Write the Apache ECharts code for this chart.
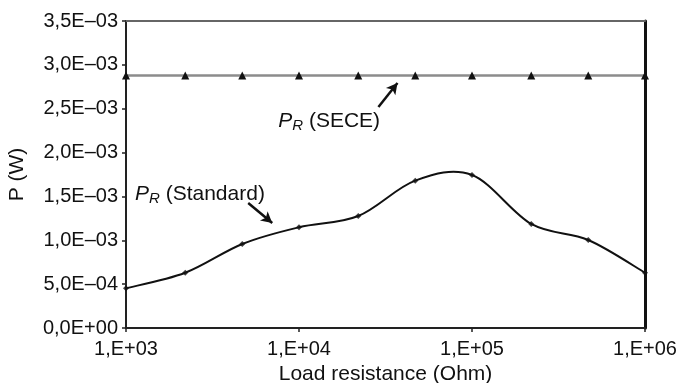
<!DOCTYPE html>
<html>
<head>
<meta charset="utf-8">
<script src="https://cdn.jsdelivr.net/npm/echarts@6/dist/echarts.min.js"></script>
<style>
  html, body { margin: 0; padding: 0; background: #fff; }
  #chart { width: 677px; height: 383px; }
</style>
</head>
<body>
<div id="chart"></div>
<script>
// Load resistances (Ohm), E6 series over three decades
const resistances = [1000, 2200, 4700, 10000, 22000, 47000, 100000, 220000, 470000, 1000000];
// Harvested power with the SECE technique (W)
const powerSECE = [2.88e-3, 2.88e-3, 2.88e-3, 2.88e-3, 2.88e-3, 2.88e-3, 2.88e-3, 2.88e-3, 2.88e-3, 2.88e-3];
// Harvested power with the standard interface (W)
const powerStandard = [0.453e-3, 0.63e-3, 0.958e-3, 1.148e-3, 1.277e-3, 1.68e-3, 1.744e-3, 1.186e-3, 1.003e-3, 0.63e-3];
// Axis tick labels
const xTickLabels = { 1000: '1,E+03', 10000: '1,E+04', 100000: '1,E+05', 1000000: '1,E+06' };
const yTickLabels = ['0,0E+00', '5,0E\u201304', '1,0E\u201303', '1,5E\u201303', '2,0E\u201303', '2,5E\u201303', '3,0E\u201303', '3,5E\u201303'];

const FONT = '"Liberation Sans", Arial, sans-serif';
const chart = echarts.init(document.getElementById('chart'));

function yLabel(v) {
  const i = Math.round(v / 0.5e-3);
  return yTickLabels[i] !== undefined ? yTickLabels[i] : '';
}

const standardData = resistances.map((r, i) => [r, powerStandard[i]]);

// Smooth curve through the measured points (Catmull-Rom segments as cubic Beziers)
function renderSmoothCurve(params, api) {
  if (params.dataIndex !== 0) return null;
  const pts = standardData.map(d => api.coord(d));
  const n = pts.length;
  let d = 'M' + pts[0][0] + ' ' + pts[0][1];
  for (let i = 0; i < n - 1; i++) {
    const p0 = pts[Math.max(i - 1, 0)], p1 = pts[i], p2 = pts[i + 1], p3 = pts[Math.min(i + 2, n - 1)];
    const c1 = [p1[0] + (p2[0] - p0[0]) / 6, p1[1] + (p2[1] - p0[1]) / 6];
    const c2 = [p2[0] - (p3[0] - p1[0]) / 6, p2[1] - (p3[1] - p1[1]) / 6];
    d += ' C' + c1[0] + ' ' + c1[1] + ' ' + c2[0] + ' ' + c2[1] + ' ' + p2[0] + ' ' + p2[1];
  }
  return {
    type: 'path', silent: true,
    shape: { pathData: d },
    style: { fill: null, stroke: '#111', lineWidth: 2 }
  };
}

const arrowStyle = { color: '#111', width: 2.5, type: 'solid' };

chart.setOption({
  animation: false,
  grid: { left: 126, right: 32, top: 21, bottom: 55, outerBoundsMode: 'none', containLabel: false },
  xAxis: [{
    type: 'log', logBase: 10, min: 1000, max: 1000000,
    name: 'Load resistance (Ohm)', nameLocation: 'middle', nameGap: 36,
    nameTextStyle: { fontFamily: FONT, fontSize: 21, color: '#111' },
    axisLine: { lineStyle: { color: '#222', width: 2 } },
    axisTick: { show: true, inside: false, length: 4, lineStyle: { color: '#222', width: 1.5 } },
    minorTick: { show: false },
    splitLine: { show: false },
    axisLabel: { fontFamily: FONT, fontSize: 20, color: '#111', margin: 11,
      formatter: v => xTickLabels[Math.round(v)] || '' }
  }, {
    type: 'log', logBase: 10, min: 1000, max: 1000000, position: 'top',
    axisLine: { show: true, onZero: false, lineStyle: { color: '#666', width: 2 } },
    axisTick: { show: false }, axisLabel: { show: false }, splitLine: { show: false }
  }],
  yAxis: [{
    type: 'value', min: 0, max: 3.5e-3, interval: 0.5e-3,
    name: 'P (W)', nameLocation: 'middle', nameGap: 98,
    nameTextStyle: { fontFamily: FONT, fontSize: 21, color: '#111' },
    axisLine: { show: true, lineStyle: { color: '#222', width: 2 } },
    axisTick: { show: true, inside: false, length: 4, lineStyle: { color: '#222', width: 1.5 } },
    splitLine: { show: false },
    axisLabel: { fontFamily: FONT, fontSize: 20, color: '#111', margin: 8, formatter: yLabel }
  }, {
    type: 'value', min: 0, max: 3.5e-3, interval: 0.5e-3, position: 'right',
    axisLine: { show: true, onZero: false, lineStyle: { color: '#111', width: 3 } },
    axisTick: { show: false }, axisLabel: { show: false }, splitLine: { show: false }
  }],
  series: [{
    name: 'SECE', type: 'line',
    data: resistances.map((r, i) => [r, powerSECE[i]]),
    lineStyle: { color: '#8c8c8c', width: 2.5 },
    symbol: 'triangle', symbolSize: 8,
    itemStyle: { color: '#111' },
    markLine: {
      silent: true, symbol: ['none', 'arrow'], symbolSize: [9, 11],
      label: { show: false }, lineStyle: arrowStyle,
      data: [[{ coord: [28780, 2.52e-3] }, { coord: [37090, 2.793e-3] }]]
    }
  }, {
    name: 'Standard curve', type: 'custom',
    data: standardData,
    renderItem: renderSmoothCurve,
    z: 2
  }, {
    name: 'Standard', type: 'scatter',
    data: standardData,
    symbol: 'diamond', symbolSize: 6,
    itemStyle: { color: '#111' },
    z: 3,
    markLine: {
      silent: true, symbol: ['none', 'arrow'], symbolSize: [9, 11],
      label: { show: false }, lineStyle: arrowStyle,
      data: [[{ coord: [5087, 1.425e-3] }, { coord: [7003, 1.197e-3] }]]
    }
  }]
});

// Curve annotations, anchored in data coordinates
const annotations = [
  { at: [7586, 2.349e-3], name: 'SECE' },
  { at: [1127, 1.516e-3], name: 'Standard' }
];
chart.setOption({
  graphic: annotations.map(a => {
    const p = chart.convertToPixel({ xAxisIndex: 0, yAxisIndex: 0 }, a.at);
    return {
      type: 'text', left: p[0], top: p[1] - 13, silent: true,
      style: {
        text: '{p|P}{r|R}{t| (' + a.name + ')}',
        rich: {
          p: { fontFamily: FONT, fontSize: 21, fontStyle: 'italic', fill: '#111', lineHeight: 25 },
          r: { fontFamily: FONT, fontSize: 15, fontStyle: 'italic', fill: '#111', padding: [9, 0, 0, 0], lineHeight: 25 },
          t: { fontFamily: FONT, fontSize: 21, fill: '#111', lineHeight: 25 }
        }
      }
    };
  })
});
</script>
</body>
</html>
